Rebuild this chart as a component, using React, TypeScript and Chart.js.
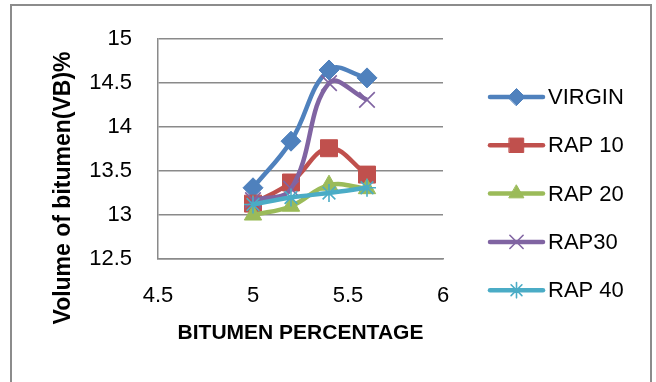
import React, { useEffect, useRef } from 'react';
import { Chart, registerables } from 'chart.js';
import { drawPoint } from 'chart.js/helpers';

Chart.register(...registerables);

// Bitumen content (%) on the x axis
const bitumenPct = [5.0, 5.2, 5.4, 5.6];

// Volume of bitumen (VB %) per mix
const virgin = [13.31, 13.84, 14.65, 14.56];
const rap10 = [13.13, 13.37, 13.76, 13.46];
const rap20 = [13.0, 13.1, 13.34, 13.3];
const rap30 = [13.17, 13.3, 14.5, 14.31];
const rap40 = [13.12, 13.2, 13.25, 13.31];

const seriesNames = ['VIRGIN', 'RAP 10', 'RAP 20', 'RAP30', 'RAP 40'];
const seriesValues = [virgin, rap10, rap20, rap30, rap40];
const seriesColors = ['#4F81BD', '#C0504D', '#9BBB59', '#8064A2', '#4BACC6'];
const seriesMarkers = ['rectRot', 'rect', 'triangle', 'crossRot', 'star'];
const markerRadius = [10, 12, 10, 11, 9];

const xTitle = 'BITUMEN PERCENTAGE';
const yTitle = 'Volume of bitumen(VB)%';

const FONT = "'Liberation Sans', Arial, sans-serif";
const GRID = '#8a8a8a';

const isLineMarker = (s: string) => s === 'crossRot' || s === 'star' || s === 'cross';
const plainNumber = (v: number | string) => String(Number(Number(v).toFixed(2)));

// Frame around the whole chart
const framePlugin = {
  id: 'frame',
  beforeDraw(chart: any) {
    const { ctx } = chart;
    ctx.save();
    ctx.fillStyle = '#ffffff';
    ctx.fillRect(0, 0, chart.width, chart.height);
    ctx.strokeStyle = '#8c8c8c';
    ctx.lineWidth = 2;
    ctx.strokeRect(11, 5, 640, 420);
    ctx.restore();
  },
};

// Rotated y axis title, placed lower than the plot centre
const yTitlePlugin = {
  id: 'yTitle',
  afterDraw(chart: any) {
    const { ctx } = chart;
    ctx.save();
    ctx.translate(64, 188);
    ctx.rotate(-Math.PI / 2);
    ctx.font = `bold 23px ${FONT}`;
    ctx.fillStyle = '#000';
    ctx.textAlign = 'center';
    ctx.textBaseline = 'middle';
    ctx.fillText(yTitle, 0, 0);
    ctx.restore();
  },
};

// Legend on the right: a short line with the series marker, then the name
const legendPlugin = {
  id: 'lineLegend',
  afterDraw(chart: any) {
    const { ctx } = chart;
    const x0 = 490;
    const x1 = 543;
    const top = 97;
    const step = 48.3;
    chart.data.datasets.forEach((ds: any, i: number) => {
      const y = top + i * step;
      ctx.save();
      ctx.strokeStyle = ds.borderColor;
      ctx.lineWidth = ds.borderWidth;
      ctx.lineCap = 'round';
      ctx.beginPath();
      ctx.moveTo(x0, y);
      ctx.lineTo(x1, y);
      ctx.stroke();
      ctx.fillStyle = ds.pointBackgroundColor;
      ctx.strokeStyle = ds.pointBorderColor;
      ctx.lineWidth = ds.pointBorderWidth;
      drawPoint(ctx, { pointStyle: ds.pointStyle, radius: ds.pointRadius * 0.85, rotation: 0, borderWidth: ds.pointBorderWidth }, (x0 + x1) / 2, y);
      ctx.fillStyle = '#000';
      ctx.font = `22px ${FONT}`;
      ctx.textAlign = 'left';
      ctx.textBaseline = 'middle';
      ctx.fillText(ds.label, 548, y + 1);
      ctx.restore();
    });
  },
};

export default function App() {
  const canvasRef = useRef<HTMLCanvasElement | null>(null);

  useEffect(() => {
    const canvas = canvasRef.current;
    if (!canvas) return;

    const datasets = seriesNames.map((name, i) => {
      const marker = seriesMarkers[i];
      const lineMarker = isLineMarker(marker);
      return {
        label: name,
        data: bitumenPct.map((x, j) => ({ x, y: seriesValues[i][j] })),
        borderColor: seriesColors[i],
        backgroundColor: seriesColors[i],
        borderWidth: 4.5,
        tension: 0.4,
        pointStyle: marker,
        pointRadius: markerRadius[i],
        pointBackgroundColor: seriesColors[i],
        pointBorderColor: seriesColors[i],
        pointBorderWidth: lineMarker ? 1.6 : 1,
        order: seriesNames.length - i,
      };
    });

    const chart = new Chart(canvas, {
      type: 'line',
      data: { datasets },
      plugins: [framePlugin, yTitlePlugin, legendPlugin],
      options: {
        animation: false,
        responsive: false,
        maintainAspectRatio: false,
        layout: { padding: { left: 0, top: 34, right: 213, bottom: 0 } },
        plugins: {
          legend: { display: false },
          tooltip: { enabled: false },
          title: { display: false },
        },
        scales: {
          x: {
            type: 'linear',
            min: 4.5,
            max: 6,
            ticks: {
              stepSize: 0.5,
              color: '#000',
              padding: 24,
              font: { family: FONT, size: 22 },
              maxRotation: 0,
              callback: (v: number) => plainNumber(v),
            },
            grid: { display: false, drawTicks: false },
            border: { display: true, color: GRID, width: 1.5 },
            title: {
              display: true,
              text: xTitle,
              color: '#000',
              font: { family: FONT, size: 21, weight: 'bold' },
              padding: { top: 0, bottom: 36.4 },
            },
            afterFit(scale: any) {
              scale.height = 123;
            },
          },
          y: {
            type: 'linear',
            min: 12.5,
            max: 15,
            ticks: {
              stepSize: 0.5,
              color: '#000',
              padding: 26,
              font: { family: FONT, size: 22 },
              callback: (v: number) => plainNumber(v),
            },
            grid: { color: GRID, lineWidth: 1.5, drawTicks: false },
            border: { display: true, color: GRID, width: 1.5 },
            afterFit(scale: any) {
              scale.width = 158;
            },
          },
        },
      } as any,
    });

    return () => chart.destroy();
  }, []);

  return (
    <div style={{ position: 'absolute', left: 0, top: 0, width: 656, height: 382, background: '#fff' }}>
      <canvas ref={canvasRef} width={656} height={382} style={{ display: 'block' }} />
    </div>
  );
}
